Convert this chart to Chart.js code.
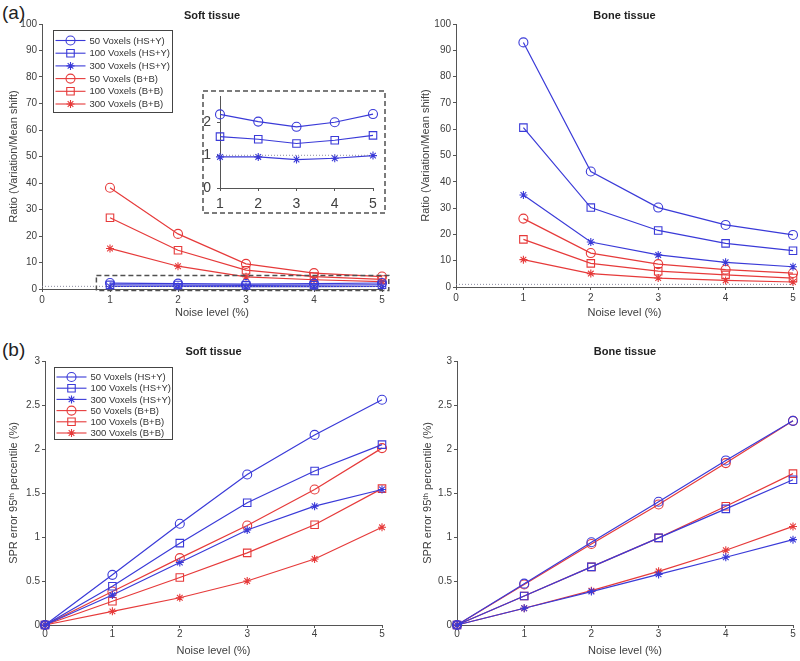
<!DOCTYPE html>
<html><head><meta charset="utf-8">
<script src="https://cdn.jsdelivr.net/npm/chart.js@4.4.1/dist/chart.umd.min.js"></script>
<style>
body{margin:0;background:#fff;width:800px;height:661px;position:relative;overflow:hidden;font-family:"Liberation Sans",Arial,sans-serif}
canvas{position:absolute}
.lab{position:absolute;font-size:19px;line-height:1;color:#222}
</style></head><body>
<div class="lab" style="left:2px;top:3px">(a)</div>
<div class="lab" style="left:2px;top:340px">(b)</div>
<canvas id="c1" width="400" height="330" style="left:0;top:0"></canvas>
<canvas id="c2" width="400" height="330" style="left:400px;top:0"></canvas>
<canvas id="c3" width="400" height="331" style="left:0;top:330px"></canvas>
<canvas id="c4" width="400" height="331" style="left:400px;top:330px"></canvas>
<canvas id="c5" width="184" height="124" style="left:202px;top:90px"></canvas>
<script>
// ---------- DATA ----------
const seriesLabels = ['50 Voxels (HS+Y)','100 Voxels (HS+Y)','300 Voxels (HS+Y)','50 Voxels (B+B)','100 Voxels (B+B)','300 Voxels (B+B)'];
const noiseRatio = [1,2,3,4,5];
const noiseSPR = [0,1,2,3,4,5];

// (a) Soft tissue ratio
const softRatio50HSY  = [2.25, 2.03, 1.87, 2.01, 2.26];
const softRatio100HSY = [1.57, 1.49, 1.36, 1.46, 1.61];
const softRatio300HSY = [0.95, 0.95, 0.87, 0.91, 0.99];
const softRatio50BB   = [38.2, 20.8, 9.5, 6.0, 4.7];
const softRatio100BB  = [26.9, 14.6, 7.1, 4.7, 3.6];
const softRatio300BB  = [15.3, 8.6, 4.6, 3.5, 2.8];

// (a) Bone tissue ratio
const boneRatio50HSY  = [93.0, 43.9, 30.2, 23.6, 19.8];
const boneRatio100HSY = [60.6, 30.2, 21.5, 16.6, 13.8];
const boneRatio300HSY = [35.0, 17.1, 12.2, 9.4, 7.7];
const boneRatio50BB   = [26.0, 12.9, 8.7, 6.6, 5.3];
const boneRatio100BB  = [18.1, 9.0, 6.0, 4.6, 3.4];
const boneRatio300BB  = [10.4, 5.1, 3.4, 2.5, 1.9];

// (b) Soft tissue SPR error 95th percentile
const softSPR50HSY  = [0, 0.57, 1.15, 1.71, 2.16, 2.56];
const softSPR100HSY = [0, 0.44, 0.93, 1.39, 1.75, 2.05];
const softSPR300HSY = [0, 0.34, 0.71, 1.08, 1.35, 1.54];
const softSPR50BB   = [0, 0.38, 0.76, 1.13, 1.54, 2.01];
const softSPR100BB  = [0, 0.27, 0.54, 0.82, 1.14, 1.55];
const softSPR300BB  = [0, 0.155, 0.31, 0.50, 0.75, 1.11];

// (b) Bone tissue SPR error 95th percentile
const boneSPR50HSY  = [0, 0.47, 0.94, 1.40, 1.87, 2.32];
const boneSPR100HSY = [0, 0.33, 0.66, 0.99, 1.32, 1.65];
const boneSPR300HSY = [0, 0.19, 0.38, 0.575, 0.77, 0.97];
const boneSPR50BB   = [0, 0.46, 0.92, 1.37, 1.84, 2.32];
const boneSPR100BB  = [0, 0.33, 0.66, 0.99, 1.35, 1.72];
const boneSPR300BB  = [0, 0.19, 0.39, 0.61, 0.85, 1.12];

// reference line (ratio = 1) and zoom box of the inset
const refLineX = [0, 5];
const refLineY = [1, 1];
const insetRefX = [1, 5];
const zoomBoxX = [0.8, 5.1];
const zoomBoxY = [-0.6, 5.1];

// ---------- STYLE ----------
const FONT = '"Liberation Sans", Arial, sans-serif';
const BLUE = '#3a3ad8';
const RED = '#e63a3a';
const AXIS = '#555';
const TXT = '#404040';
const styles = [
  {c: BLUE, p: 'circle', r: 4.5}, {c: BLUE, p: 'rect', r: 5.3}, {c: BLUE, p: 'star', r: 4},
  {c: RED, p: 'circle', r: 4.5}, {c: RED, p: 'rect', r: 5.3}, {c: RED, p: 'star', r: 4}
];

function series(i, xs, ys) {
  const s = styles[i];
  return {
    label: seriesLabels[i], data: xs.map((x, k) => ({x: x, y: ys[k]})),
    borderColor: s.c, backgroundColor: s.c, borderWidth: 1.2,
    pointStyle: s.p, pointRadius: s.r, pointBorderColor: s.c, pointBackgroundColor: 'rgba(0,0,0,0)',
    pointBorderWidth: 1.1, pointHoverRadius: s.r, clip: false, tension: 0, inLegend: true
  };
}
function refLine(xs) {
  return {label: 'ref', data: xs.map((x, k) => ({x: x, y: refLineY[k]})), borderColor: '#8c8ca0',
    borderWidth: 1, borderDash: [1, 2], pointRadius: 0, clip: false, inLegend: false};
}

function fixY(w) { return s => { s.width = w; s.paddingTop = 0; s.paddingBottom = 0; }; }
function fixX(h) { return s => { s.height = h; s.paddingLeft = 0; s.paddingRight = 0; }; }
const plainNum = v => String(+(+v).toFixed(2));

function xAxis(o) {
  return {
    type: 'linear', min: o.min, max: o.max, afterFit: fixX(o.h),
    ticks: {stepSize: 1, color: TXT, font: {family: FONT, size: o.fs || 10}, padding: o.tp, maxRotation: 0, includeBounds: false, callback: plainNum},
    grid: {display: true, drawOnChartArea: false, drawTicks: true, tickLength: 3, color: AXIS},
    border: {display: true, color: AXIS, width: 1},
    title: o.title ? {display: true, text: o.title, color: TXT, font: {family: FONT, size: 11}, padding: {top: 0, bottom: o.titlePad}} : {display: false}
  };
}
function yAxis(o) {
  return {
    type: 'linear', min: o.min, max: o.max, afterFit: fixY(o.w),
    ticks: {stepSize: o.step, color: TXT, font: {family: FONT, size: o.fs || 10}, padding: o.tp, includeBounds: false, callback: plainNum},
    grid: {display: true, drawOnChartArea: false, drawTicks: true, tickLength: 3, color: AXIS},
    border: {display: true, color: AXIS, width: 1},
    title: o.title ? {display: true, text: o.title, color: TXT, font: {family: FONT, size: 11}, padding: {top: o.titlePad, bottom: 0}} : {display: false}
  };
}

// ---------- PLUGINS ----------
const axTitle = {
  id: 'axTitle',
  afterDraw(chart, args, o) {
    if (!o.text) return;
    const ctx = chart.ctx, ca = chart.chartArea;
    ctx.save();
    ctx.font = 'bold 11px ' + FONT; ctx.fillStyle = '#222';
    ctx.textAlign = 'center'; ctx.textBaseline = 'middle';
    ctx.fillText(o.text, (ca.left + ca.right) / 2, ca.top - o.dy);
    ctx.restore();
  }
};
const boxLegend = {
  id: 'boxLegend',
  afterDraw(chart, args, o) {
    if (!o.show) return;
    const ctx = chart.ctx, ca = chart.chartArea;
    const items = chart.data.datasets.filter(d => d.inLegend);
    const x0 = Math.round(ca.left + o.dx) + 0.5, y0 = Math.round(ca.top + o.dy) + 0.5;
    ctx.save();
    ctx.fillStyle = '#fff'; ctx.fillRect(x0, y0, o.w, o.h);
    ctx.strokeStyle = '#444'; ctx.lineWidth = 1; ctx.strokeRect(x0, y0, o.w, o.h);
    items.forEach((d, i) => {
      const y = y0 + o.first + i * o.row;
      ctx.strokeStyle = d.borderColor; ctx.lineWidth = 1.1;
      ctx.beginPath(); ctx.moveTo(x0 + 2, y); ctx.lineTo(x0 + 32, y); ctx.stroke();
      ctx.fillStyle = 'rgba(0,0,0,0)';
      Chart.helpers.drawPoint(ctx, {pointStyle: d.pointStyle, radius: d.pointRadius, borderWidth: 1.1, rotation: 0}, x0 + 17, y);
      ctx.fillStyle = '#333'; ctx.font = '9.5px ' + FONT; ctx.textAlign = 'left'; ctx.textBaseline = 'middle';
      ctx.fillText(d.label, x0 + 36, y + 0.5);
    });
    ctx.restore();
  }
};
const zoomRect = {
  id: 'zoomRect',
  afterDatasetsDraw(chart, args, o) {
    if (!o.show) return;
    const xs = chart.scales.x, ys = chart.scales.y, ctx = chart.ctx;
    const x1 = xs.getPixelForValue(zoomBoxX[0]), x2 = xs.getPixelForValue(zoomBoxX[1]);
    const y1 = ys.getPixelForValue(zoomBoxY[1]), y2 = ys.getPixelForValue(zoomBoxY[0]);
    ctx.save(); ctx.strokeStyle = '#505050'; ctx.lineWidth = 1.5; ctx.setLineDash([5, 3]);
    ctx.strokeRect(x1, y1, x2 - x1, y2 - y1); ctx.restore();
  }
};
const insetFrame = {
  id: 'insetFrame',
  beforeDraw(chart, args, o) {
    if (!o.show) return;
    const ctx = chart.ctx; ctx.save(); ctx.fillStyle = '#fff'; ctx.fillRect(0, 0, chart.width, chart.height); ctx.restore();
  },
  afterDraw(chart, args, o) {
    if (!o.show) return;
    const ctx = chart.ctx; ctx.save(); ctx.strokeStyle = '#505050'; ctx.lineWidth = 1.5; ctx.setLineDash([5, 3]);
    ctx.strokeRect(1, 1, chart.width - 2, chart.height - 2); ctx.restore();
  }
};
Chart.register(axTitle, boxLegend, zoomRect, insetFrame);

function makeChart(id, datasets, o) {
  return new Chart(document.getElementById(id), {
    type: 'line',
    data: {datasets: datasets},
    options: {
      responsive: false, animation: false, devicePixelRatio: 1,
      layout: {padding: o.pad},
      scales: {x: o.x, y: o.y},
      plugins: {
        legend: {display: false}, tooltip: {enabled: false}, title: {display: false},
        axTitle: o.title || {}, boxLegend: o.legend || {}, zoomRect: o.zoom || {}, insetFrame: o.frame || {}
      }
    }
  });
}

// (a) soft tissue
makeChart('c1', [
  refLine(refLineX),
  series(0, noiseRatio, softRatio50HSY), series(1, noiseRatio, softRatio100HSY), series(2, noiseRatio, softRatio300HSY),
  series(3, noiseRatio, softRatio50BB), series(4, noiseRatio, softRatio100BB), series(5, noiseRatio, softRatio300BB)
], {
  pad: {left: 0, top: 24, right: 18, bottom: 0},
  x: xAxis({min: 0, max: 5, h: 41, tp: 2, title: 'Noise level (%)', titlePad: 10.4}),
  y: yAxis({min: 0, max: 100, step: 10, w: 42, tp: 2, title: 'Ratio (Variation/Mean shift)', titlePad: 7.4}),
  title: {text: 'Soft tissue', dy: 8},
  legend: {show: true, dx: 11, dy: 6, w: 119, h: 82, first: 10, row: 12.7},
  zoom: {show: true}
});

// (a) bone tissue
makeChart('c2', [
  refLine(refLineX),
  series(0, noiseRatio, boneRatio50HSY), series(1, noiseRatio, boneRatio100HSY), series(2, noiseRatio, boneRatio300HSY),
  series(3, noiseRatio, boneRatio50BB), series(4, noiseRatio, boneRatio100BB), series(5, noiseRatio, boneRatio300BB)
], {
  pad: {left: 0, top: 24, right: 7, bottom: 0},
  x: xAxis({min: 0, max: 5, h: 43, tp: 2, title: 'Noise level (%)', titlePad: 10.4}),
  y: yAxis({min: 0, max: 100, step: 10, w: 56, tp: 2, title: 'Ratio (Variation/Mean shift)', titlePad: 19.4}),
  title: {text: 'Bone tissue', dy: 8}
});

// (b) soft tissue
const sprTitle = 'SPR error 95\u1D57\u02B0 percentile (%)';
makeChart('c3', [
  series(0, noiseSPR, softSPR50HSY), series(1, noiseSPR, softSPR100HSY), series(2, noiseSPR, softSPR300HSY),
  series(3, noiseSPR, softSPR50BB), series(4, noiseSPR, softSPR100BB), series(5, noiseSPR, softSPR300BB)
], {
  pad: {left: 0, top: 31, right: 18, bottom: 0},
  x: xAxis({min: 0, max: 5, h: 36, tp: 0, title: 'Noise level (%)', titlePad: 3.7}),
  y: yAxis({min: 0, max: 3, step: 0.5, w: 45, tp: 2, title: sprTitle, titlePad: 7.4}),
  title: {text: 'Soft tissue', dy: 9},
  legend: {show: true, dx: 9, dy: 6, w: 118, h: 72, first: 9.5, row: 11.2}
});

// (b) bone tissue
makeChart('c4', [
  series(0, noiseSPR, boneSPR50HSY), series(1, noiseSPR, boneSPR100HSY), series(2, noiseSPR, boneSPR300HSY),
  series(3, noiseSPR, boneSPR50BB), series(4, noiseSPR, boneSPR100BB), series(5, noiseSPR, boneSPR300BB)
], {
  pad: {left: 0, top: 31, right: 7, bottom: 0},
  x: xAxis({min: 0, max: 5, h: 36, tp: 0, title: 'Noise level (%)', titlePad: 3.7}),
  y: yAxis({min: 0, max: 3, step: 0.5, w: 57, tp: 2, title: sprTitle, titlePad: 21.4}),
  title: {text: 'Bone tissue', dy: 9}
});

// inset (zoom on HS+Y soft tissue ratio)
makeChart('c5', [
  refLine(insetRefX),
  series(0, noiseRatio, softRatio50HSY), series(1, noiseRatio, softRatio100HSY), series(2, noiseRatio, softRatio300HSY)
], {
  pad: {left: 0, top: 2, right: 13, bottom: 0},
  x: xAxis({min: 1, max: 5, h: 26, tp: 5, fs: 14}),
  y: yAxis({min: 0, max: 2.8, step: 1, w: 18, tp: 6, fs: 14}),
  frame: {show: true}
});
</script>
</body></html>
